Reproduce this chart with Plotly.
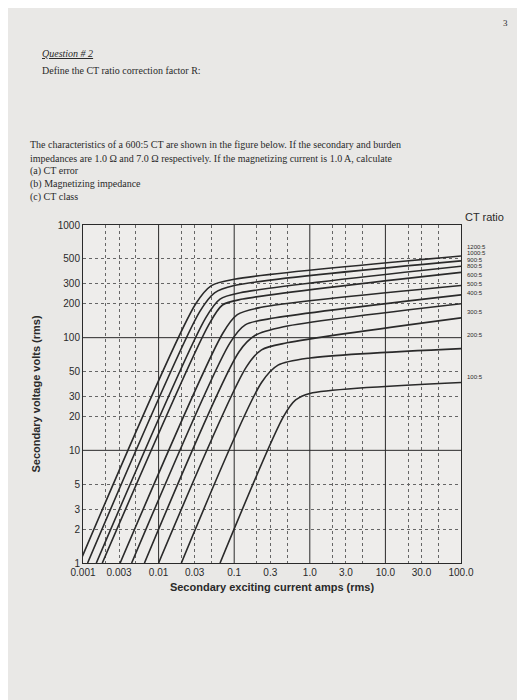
import math
import plotly.graph_objects as go

# CT excitation curves (current A rms, voltage V rms)
ratios = ["1200:5", "1000:5", "900:5", "800:5", "600:5", "500:5", "400:5", "300:5", "200:5", "100:5"]
curve_i = [
    [0.0009, 0.031, 0.05, 0.1, 100],
    [0.00115, 0.035, 0.055, 0.1, 100],
    [0.0015, 0.042, 0.065, 0.12, 100],
    [0.0018, 0.046, 0.07, 0.13, 100],
    [0.0031, 0.071, 0.11, 0.22, 100],
    [0.0044, 0.088, 0.14, 0.35, 100],
    [0.0065, 0.116, 0.19, 0.45, 100],
    [0.01, 0.145, 0.23, 0.5, 100],
    [0.02, 0.23, 0.38, 1.0, 100],
    [0.065, 0.45, 0.65, 1.0, 100],
]
curve_v = [
    [1, 200, 290, 330, 530],
    [1, 170, 250, 290, 480],
    [1, 150, 220, 250, 430],
    [1, 130, 195, 220, 380],
    [1, 110, 160, 185, 290],
    [1, 90, 130, 150, 240],
    [1, 75, 105, 125, 200],
    [1, 55, 78, 90, 150],
    [1, 40, 57, 66, 80],
    [1, 20, 28, 32, 40],
]
label_v = [640, 560, 490, 430, 360, 300, 250, 170, 105, 45]

x_ticks = [0.001, 0.003, 0.01, 0.03, 0.1, 0.3, 1, 3, 10, 30, 100]
x_text = ["0.001", "0.003", "0.01", "0.03", "0.1", "0.3", "1.0", "3.0", "10.0", "30.0", "100.0"]
y_ticks = [1, 2, 3, 5, 10, 20, 30, 50, 100, 200, 300, 500, 1000]
x_minor = [m * 10 ** e for e in range(-3, 2) for m in (2, 3, 5)]
y_minor = [m * 10 ** e for e in range(0, 3) for m in (2, 3, 5)]

ink = "#2a2a2a"
L, R, T, B = 75, 72, 217, 145
fig = go.Figure()
for r, xs, ys in zip(ratios, curve_i, curve_v):
    fig.add_trace(go.Scatter(x=xs, y=ys, mode="lines", name=r,
                             line=dict(color=ink, width=1.6, shape="spline", smoothing=0.8)))

fig.update_xaxes(type="log", range=[-3, 2], tickvals=x_ticks, ticktext=x_text,
                 showgrid=False, showline=True, linecolor=ink, mirror=True, ticks="",
                 tickfont=dict(size=10, color=ink),
                 minor=dict(tickvals=x_minor, showgrid=True, gridcolor="#666", griddash="dot"),
                 title=dict(text="<b>Secondary exciting current amps (rms)</b>", font=dict(size=11, color=ink), standoff=6))
fig.update_yaxes(type="log", range=[0, 3], tickvals=y_ticks,
                 ticktext=["1", "2", "3", "5", "10", "20", "30", "50", "100", "200", "300", "500", "1000"],
                 showgrid=False, showline=True, linecolor=ink, mirror=True,
                 tickfont=dict(size=10, color=ink),
                 minor=dict(tickvals=y_minor, showgrid=True, gridcolor="#666", griddash="dot"),
                 title=dict(text="<b>Secondary voltage volts (rms)</b>", font=dict(size=11, color=ink), standoff=14))

# solid decade grid lines
for e in range(-2, 2):
    fig.add_shape(type="line", xref="x", yref="paper", x0=10 ** e, x1=10 ** e, y0=0, y1=1,
                  line=dict(color=ink, width=1))
for v in (10, 100):
    fig.add_shape(type="line", xref="paper", yref="y", x0=0, x1=1, y0=v, y1=v,
                  line=dict(color=ink, width=1))

for r, v in zip(ratios, label_v):
    fig.add_annotation(x=1.0, xref="paper", xanchor="left", xshift=4, y=math.log10(v), yref="y",
                       text=r, showarrow=False, font=dict(size=6, color=ink))
fig.add_annotation(x=1.0, xref="paper", xanchor="left", xshift=2, y=1, yref="paper", yanchor="bottom",
                   text="CT ratio", showarrow=False, font=dict(size=11, color=ink))

serif = "Liberation Serif"
page_text = [
    (493, 15, "3", 9),
    (32, 45, "<i><u>Question # 2</u></i>", 10),
    (32, 62, "Define the CT ratio correction factor R:", 10),
    (20, 137, "The characteristics of a 600:5 CT are shown in the figure below. If the secondary and burden", 10),
    (20, 150, "impedances are 1.0 Ω and 7.0 Ω respectively. If the magnetizing current is 1.0 A, calculate", 10),
    (20, 163, "(a) CT error", 10),
    (20, 176, "(b) Magnetizing impedance", 10),
    (20, 189, "(c) CT class", 10),
]
pw, ph = 525 - L - R, 700 - T - B
for px, py, t, s in page_text:
    fig.add_annotation(x=(px - L) / pw, y=(700 - B - py) / ph, xref="paper", yref="paper",
                       xanchor="left", yanchor="middle", text=t, showarrow=False,
                       font=dict(family=serif, size=s, color=ink))

fig.update_layout(width=525, height=700, showlegend=False,
                  margin=dict(l=L, r=R, t=T, b=B),
                  paper_bgcolor="#e9e8e6", plot_bgcolor="#eeedeb",
                  font=dict(family="Liberation Sans", color=ink))
fig.write_html("out.html")
